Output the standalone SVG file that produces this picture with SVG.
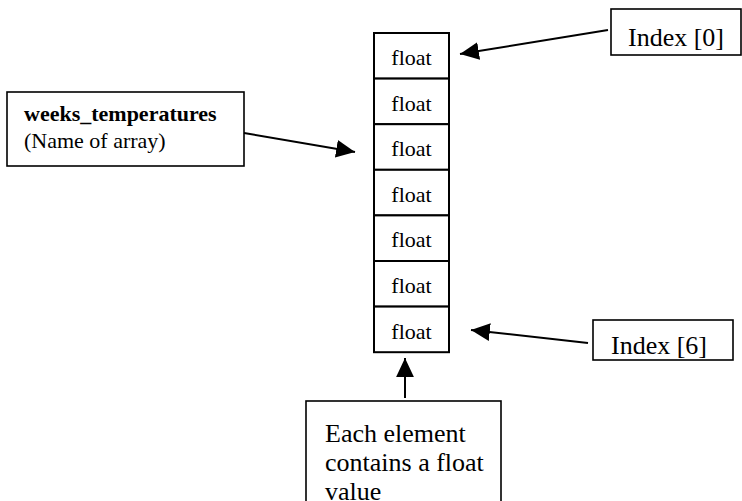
<svg xmlns="http://www.w3.org/2000/svg" width="742" height="501" viewBox="0 0 742 501">
<style>
.box{fill:#fff;stroke:#000;stroke-width:1.6}
.cell{fill:#fff;stroke:#000;stroke-width:2}
.t{font-family:"Liberation Serif","Times New Roman",serif;fill:#000}
.s22{font-size:22px}
.s26{font-size:26px}
.b{font-weight:bold}
.conn{stroke:#000;stroke-width:2;fill:none;marker-end:url(#ah)}
</style>
<defs>
<marker id="ah" markerUnits="userSpaceOnUse" markerWidth="20" markerHeight="20" viewBox="0 0 18 16" refX="17" refY="8" orient="auto">
<path d="M0,0 L17,8 L0,16 Z" fill="#000"/>
</marker>
</defs>
<rect width="742" height="501" fill="#fff"/>
<g id="array">
<rect class="cell" x="374" y="33" width="75" height="45.6"/>
<rect class="cell" x="374" y="78.6" width="75" height="45.6"/>
<rect class="cell" x="374" y="124.2" width="75" height="45.6"/>
<rect class="cell" x="374" y="169.8" width="75" height="45.6"/>
<rect class="cell" x="374" y="215.4" width="75" height="45.6"/>
<rect class="cell" x="374" y="261" width="75" height="45.6"/>
<rect class="cell" x="374" y="306.6" width="75" height="45.6"/>
<g class="t s22" text-anchor="middle">
<text x="411.5" y="65">float</text>
<text x="411.5" y="110.6">float</text>
<text x="411.5" y="156.2">float</text>
<text x="411.5" y="201.8">float</text>
<text x="411.5" y="247.4">float</text>
<text x="411.5" y="293">float</text>
<text x="411.5" y="338.6">float</text>
</g>
</g>
<g id="index0">
<rect class="box" x="611" y="9" width="130" height="46"/>
<text class="t s26" x="628" y="46">Index [0]</text>
</g>
<g id="index6">
<rect class="box" x="593" y="320" width="140" height="40"/>
<text class="t s26" x="611" y="354">Index [6]</text>
</g>
<g id="name">
<rect class="box" x="7" y="92" width="237" height="74"/>
<text class="t s22 b" x="24" y="121">weeks_temperatures</text>
<text class="t s22" x="24" y="148">(Name of array)</text>
</g>
<g id="element">
<rect class="box" x="306" y="401" width="195" height="130"/>
<text class="t s26" x="325" y="442">Each element</text>
<text class="t s26" x="325" y="471">contains a float</text>
<text class="t s26" x="325" y="500">value</text>
</g>
<g id="connectors">
<line class="conn" x1="244" y1="133" x2="355" y2="152"/>
<line class="conn" x1="608" y1="30" x2="460" y2="54"/>
<line class="conn" x1="588" y1="343" x2="471" y2="330"/>
<line class="conn" x1="405" y1="398" x2="405" y2="358"/>
</g>
</svg>
